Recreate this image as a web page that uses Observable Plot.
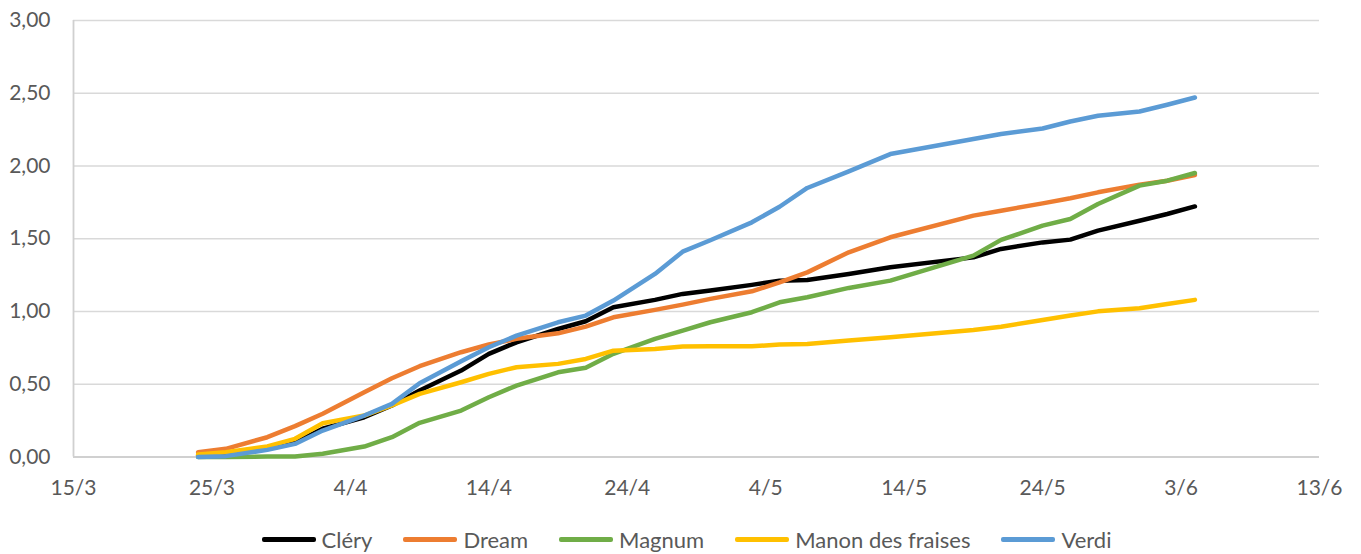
<!DOCTYPE html>
<html>
<head>
<meta charset="utf-8">
<script src="https://cdn.jsdelivr.net/npm/d3@7"></script>
<script src="https://cdn.jsdelivr.net/npm/@observablehq/plot@0.6"></script>
<style>
  html, body { margin: 0; padding: 0; background: #fff; }
  #chart svg { display: block; }
  #legend { display: flex; justify-content: center; align-items: center; height: 39px; padding-top: 5px; padding-left: 12px;
            font-family: Lato, "Liberation Sans", sans-serif; font-size: 22px; color: #595959; }
  .item { display: flex; align-items: center; margin-right: 31px; }
  .item:last-child { margin-right: 0; }
  .sw { display: inline-block; width: 54px; height: 4.5px; margin-right: 6px; border-radius: 2px; }
</style>
</head>
<body>
<div id="chart"></div>
<div id="legend"></div>
<script>
const dates = ["2021-03-24","2021-03-26","2021-03-29","2021-03-31","2021-04-02","2021-04-05","2021-04-07","2021-04-09",
  "2021-04-12","2021-04-14","2021-04-16","2021-04-19","2021-04-21","2021-04-23","2021-04-26","2021-04-28","2021-04-30",
  "2021-05-03","2021-05-05","2021-05-07","2021-05-10","2021-05-13","2021-05-19","2021-05-21","2021-05-24","2021-05-26",
  "2021-05-28","2021-05-31","2021-06-02","2021-06-04"];

const series = ["Cléry", "Dream", "Magnum", "Manon des fraises", "Verdi"];
const colors = ["#000000", "#ED7D31", "#70AD47", "#FFC000", "#5B9BD5"];

const clery  = [0.01, 0.02, 0.056, 0.10, 0.194, 0.273, 0.354, 0.457, 0.594, 0.709, 0.788, 0.88, 0.933, 1.029, 1.08, 1.121, 1.144, 1.183, 1.212, 1.217, 1.258, 1.304, 1.372, 1.43, 1.475, 1.494, 1.556, 1.624, 1.67, 1.722];
const dream  = [0.033, 0.056, 0.136, 0.212, 0.297, 0.445, 0.541, 0.624, 0.72, 0.773, 0.812, 0.85, 0.896, 0.96, 1.011, 1.047, 1.087, 1.139, 1.2, 1.269, 1.407, 1.51, 1.659, 1.693, 1.743, 1.778, 1.819, 1.872, 1.899, 1.938];
const magnum = [0, 0, 0.003, 0.003, 0.022, 0.072, 0.136, 0.235, 0.319, 0.411, 0.491, 0.582, 0.613, 0.709, 0.812, 0.869, 0.926, 0.995, 1.063, 1.098, 1.162, 1.212, 1.384, 1.492, 1.59, 1.636, 1.739, 1.865, 1.899, 1.952];
const manon  = [0.017, 0.033, 0.072, 0.125, 0.232, 0.285, 0.354, 0.434, 0.514, 0.571, 0.617, 0.64, 0.674, 0.731, 0.743, 0.759, 0.761, 0.761, 0.773, 0.777, 0.8, 0.823, 0.873, 0.895, 0.942, 0.972, 1.001, 1.022, 1.052, 1.08];
const verdi  = [0.0, 0.006, 0.049, 0.09, 0.182, 0.285, 0.365, 0.507, 0.658, 0.754, 0.834, 0.926, 0.972, 1.075, 1.258, 1.411, 1.49, 1.613, 1.72, 1.849, 1.963, 2.082, 2.185, 2.22, 2.258, 2.306, 2.345, 2.375, 2.421, 2.471];

const xTicks = ["2021-03-15","2021-03-25","2021-04-04","2021-04-14","2021-04-24","2021-05-04","2021-05-14","2021-05-24","2021-06-03","2021-06-13"];
const yTicks = [0, 0.5, 1, 1.5, 2, 2.5, 3];

const allValues = [clery, dream, magnum, manon, verdi];
const rows = series.flatMap((s, i) => dates.map((d, j) => ({date: new Date(d), value: allValues[i][j], series: s})));
const xTickDates = xTicks.map(d => new Date(d));

const chart = Plot.plot({
  width: 1361,
  height: 515,
  marginTop: 20,
  marginBottom: 58.5,
  marginLeft: 73,
  marginRight: 42,
  style: {fontFamily: "Lato, 'Liberation Sans', sans-serif", background: "#fff"},
  x: {type: "utc", domain: [xTickDates[0], xTickDates[xTickDates.length - 1]]},
  y: {domain: [0, 3]},
  color: {domain: series, range: colors},
  marks: [
    Plot.ruleY(yTicks.slice(1), {stroke: "#D9D9D9", strokeWidth: 1.6}),
    Plot.ruleX([xTickDates[0]], {stroke: "#D0D0D0", strokeWidth: 1.8}),
    Plot.ruleY([0], {stroke: "#D0D0D0", strokeWidth: 1.8}),
    Plot.axisY({ticks: yTicks, tickSize: 0, tickPadding: 23, fontSize: 21, fill: "#595959",
      tickFormat: d => d.toFixed(2).replace(".", ","), label: null}),
    Plot.axisX({ticks: xTickDates, tickSize: 0, tickPadding: 23, fontSize: 21, fill: "#595959",
      tickFormat: d => `${d.getUTCDate()}/${d.getUTCMonth() + 1}`, label: null}),
    Plot.lineY(rows, {x: "date", y: "value", stroke: "series", z: "series", strokeWidth: 4.5,
      strokeLinejoin: "round", strokeLinecap: "round"})
  ]
});
document.getElementById("chart").appendChild(chart);

const legend = document.getElementById("legend");
series.forEach((s, i) => {
  const item = document.createElement("div");
  item.className = "item";
  const sw = document.createElement("span");
  sw.className = "sw";
  sw.style.background = colors[i];
  const t = document.createElement("span");
  t.textContent = s;
  item.appendChild(sw);
  item.appendChild(t);
  legend.appendChild(item);
});
</script>
</body>
</html>
